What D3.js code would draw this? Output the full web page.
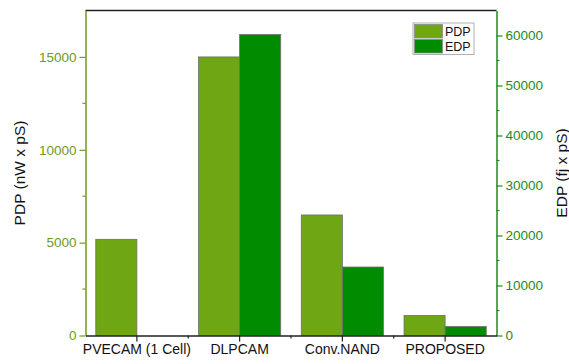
<!DOCTYPE html>
<html>
<head>
<meta charset="utf-8">
<script src="https://cdn.jsdelivr.net/npm/d3@7"></script>
<style>
  body { margin: 0; background: #fff; }
  svg { display: block; font-family: "Liberation Sans", Arial, sans-serif; }
</style>
</head>
<body>
<svg id="chart" width="569" height="364"></svg>
<script>
// Power-delay and energy-delay products per design
const categories = ["PVECAM (1 Cell)", "DLPCAM", "Conv.NAND", "PROPOSED"];
const pdpValues = [5180, 15000, 6490, 1080];
const edpValues = [0, 60200, 13700, 1800];
const pdpTicks = [0, 5000, 10000, 15000];
const edpTicks = [0, 10000, 20000, 30000, 40000, 50000, 60000];
const seriesNames = ["PDP", "EDP"];

const pdpColor = "#6ea614";
const edpColor = "#008c00";
const leftAxisColor = "#6b9a22";
const rightAxisColor = "#1f8a1f";

const svg = d3.select("#chart");
const m = { left: 85.5, right: 496.5, top: 10.5, bottom: 335.5 };

const x = d3.scaleBand().domain(categories).range([m.left, m.right]).padding(0);
const yL = d3.scaleLinear().domain([0, 17500]).range([m.bottom, m.top]);
const yR = d3.scaleLinear().domain([0, 65000]).range([m.bottom, m.top]);

const groupFrac = 0.8;
const barW = x.bandwidth() * groupFrac / 2;

// Bars
const g = svg.append("g");
categories.forEach((c, i) => {
  const x0 = x(c) + x.bandwidth() * (1 - groupFrac) / 2;
  g.append("rect")
    .attr("x", x0).attr("y", yL(pdpValues[i]))
    .attr("width", barW).attr("height", yL(0) - yL(pdpValues[i]))
    .attr("fill", pdpColor).attr("stroke", "#707070").attr("stroke-width", 0.8);
  if (edpValues[i] > 0) {
    g.append("rect")
      .attr("x", x0 + barW).attr("y", yR(edpValues[i]))
      .attr("width", barW).attr("height", yR(0) - yR(edpValues[i]))
      .attr("fill", edpColor).attr("stroke", "#707070").attr("stroke-width", 0.8);
  }
});

// Top frame line
svg.append("line")
  .attr("x1", m.left).attr("x2", m.right)
  .attr("y1", m.top).attr("y2", m.top)
  .attr("stroke", "#222").attr("stroke-width", 1.5);

// Left axis
const leftAx = svg.append("g").attr("transform", `translate(${m.left},0)`)
  .call(d3.axisLeft(yL).tickValues(pdpTicks).tickSize(6).tickSizeOuter(0).tickFormat(d3.format("d")));
leftAx.select(".domain").attr("stroke", leftAxisColor).attr("stroke-width", 1.5);
leftAx.selectAll(".tick line").attr("stroke", leftAxisColor).attr("stroke-width", 1.2);
leftAx.selectAll(".tick text").attr("fill", leftAxisColor).attr("font-size", 13.5).attr("x", -9);
// minor ticks
svg.append("g").selectAll("line")
  .data(d3.range(2500, 17500, 5000)).join("line")
  .attr("x1", m.left - 3).attr("x2", m.left)
  .attr("y1", d => yL(d)).attr("y2", d => yL(d))
  .attr("stroke", leftAxisColor).attr("stroke-width", 1.2);

// Right axis
const rightAx = svg.append("g").attr("transform", `translate(${m.right},0)`)
  .call(d3.axisRight(yR).tickValues(edpTicks).tickSize(6).tickSizeOuter(0).tickFormat(d3.format("d")));
rightAx.select(".domain").attr("stroke", rightAxisColor).attr("stroke-width", 1.5);
rightAx.selectAll(".tick line").attr("stroke", rightAxisColor).attr("stroke-width", 1.2);
rightAx.selectAll(".tick text").attr("fill", rightAxisColor).attr("font-size", 13.5).attr("x", 9);
svg.append("g").selectAll("line")
  .data(d3.range(5000, 65000, 10000)).join("line")
  .attr("x1", m.right).attr("x2", m.right + 3)
  .attr("y1", d => yR(d)).attr("y2", d => yR(d))
  .attr("stroke", rightAxisColor).attr("stroke-width", 1.2);

// Bottom axis
const bottomAx = svg.append("g").attr("transform", `translate(0,${m.bottom})`)
  .call(d3.axisBottom(x).tickSize(6).tickSizeOuter(0));
bottomAx.select(".domain").attr("stroke", "#222").attr("stroke-width", 1.5);
bottomAx.selectAll(".tick line").attr("stroke", "#222").attr("stroke-width", 1.2);
bottomAx.selectAll(".tick text").attr("fill", "#111").attr("font-size", 14).attr("y", 9);
// minor ticks at category boundaries
svg.append("g").selectAll("line")
  .data(categories.slice(1)).join("line")
  .attr("x1", d => x(d)).attr("x2", d => x(d))
  .attr("y1", m.bottom).attr("y2", m.bottom + 3)
  .attr("stroke", "#222").attr("stroke-width", 1.2);

// Axis titles
svg.append("text")
  .attr("transform", `translate(25,${(m.top + m.bottom) / 2}) rotate(-90)`)
  .attr("text-anchor", "middle").attr("font-size", 15.5).attr("fill", "#111")
  .text("PDP (nW x pS)");
svg.append("text")
  .attr("transform", `translate(567,${(m.top + m.bottom) / 2}) rotate(-90)`)
  .attr("text-anchor", "middle").attr("font-size", 15.5).attr("fill", "#111")
  .text("EDP (fj x pS)");

// Legend
const lg = svg.append("g").attr("transform", "translate(413,23)");
lg.append("rect").attr("x", 0).attr("y", 0).attr("width", 61).attr("height", 31.5)
  .attr("fill", "#fff").attr("stroke", "#b0b0b0").attr("stroke-width", 1);
[pdpColor, edpColor].forEach((col, i) => {
  lg.append("rect").attr("x", 1.5).attr("y", 1.5 + i * 15).attr("width", 28).attr("height", 13.5)
    .attr("fill", col).attr("stroke", "#888").attr("stroke-width", 0.8);
  lg.append("text").attr("x", 32).attr("y", 12.5 + i * 15)
    .attr("font-size", 12.5).attr("fill", "#111").text(seriesNames[i]);
});
</script>
</body>
</html>
